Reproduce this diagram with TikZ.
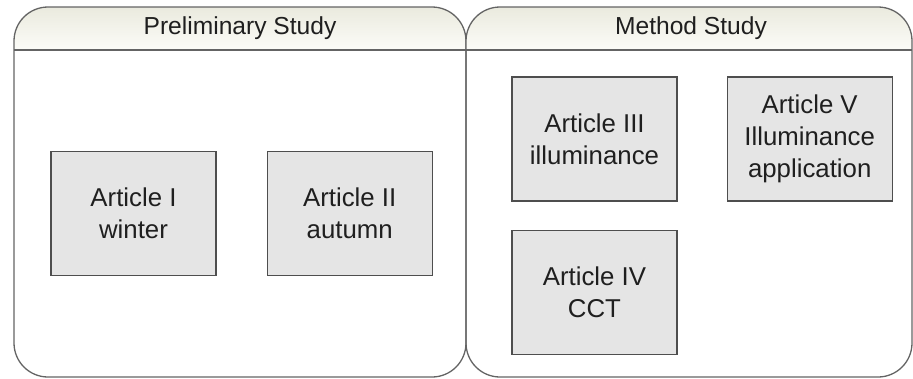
\documentclass[tikz,border=0pt]{standalone}
\usepackage{fontspec}
\setmainfont{Liberation Sans}
\usetikzlibrary{positioning}

\definecolor{laneline}{RGB}{100,100,100}
\definecolor{headtop}{RGB}{234,234,222}
\definecolor{headbot}{RGB}{252,252,248}
\definecolor{boxfill}{RGB}{229,229,229}
\definecolor{boxline}{RGB}{78,78,78}

\begin{document}
\begin{tikzpicture}[
        x=1pt, y=-1pt,
        node distance=50pt,
        lane/.style={draw=laneline, line width=1.3pt, rounded corners=34pt},
        lane_head/.style={top color=headtop, bottom color=headbot},
        lane_title/.style={font=\fontsize{24.6}{28}\selectfont, text=black!88},
        article/.style={rectangle, draw=boxline, fill=boxfill, line width=1.2pt,
            minimum width=165pt, minimum height=124pt, inner sep=0pt, align=center,
            font=\fontsize{25.8}{31.7}\selectfont, text=black!88}
    ]
    \useasboundingbox (0,0) rectangle (913,378);

    % --- Left lane: Preliminary Study ---
    \begin{scope}
        \clip[rounded corners=34pt] (14,7) rectangle (466,377);
        \shade[lane_head] (14,7) rectangle (466,50);
    \end{scope}
    \draw[lane] (14,7) rectangle (466,377);
    \draw[laneline, line width=1.3pt] (14,50) -- (466,50);
    \node[lane_title] (prelim) at (240,28.5) {Preliminary Study};

    \node[article] (art1) at (133.5,213.5) {Article I\\winter};
    \node[article, right=50pt of art1] (art2) {Article II\\autumn};

    % --- Right lane: Method Study ---
    \begin{scope}
        \clip[rounded corners=34pt] (466,7) rectangle (912,377);
        \shade[lane_head] (466,7) rectangle (912,50);
    \end{scope}
    \draw[lane] (466,7) rectangle (912,377);
    \draw[laneline, line width=1.3pt] (466,50) -- (912,50);
    \node[lane_title] (method) at (691,28.5) {Method Study};

    \node[article] (art3) at (594.5,139) {Article III\\illuminance};
    \node[article, right=49pt of art3] (art5) {Article V\\Illuminance\\application};
    \node[article, below=28pt of art3] (art4) {Article IV\\CCT};

\end{tikzpicture}
\end{document}
